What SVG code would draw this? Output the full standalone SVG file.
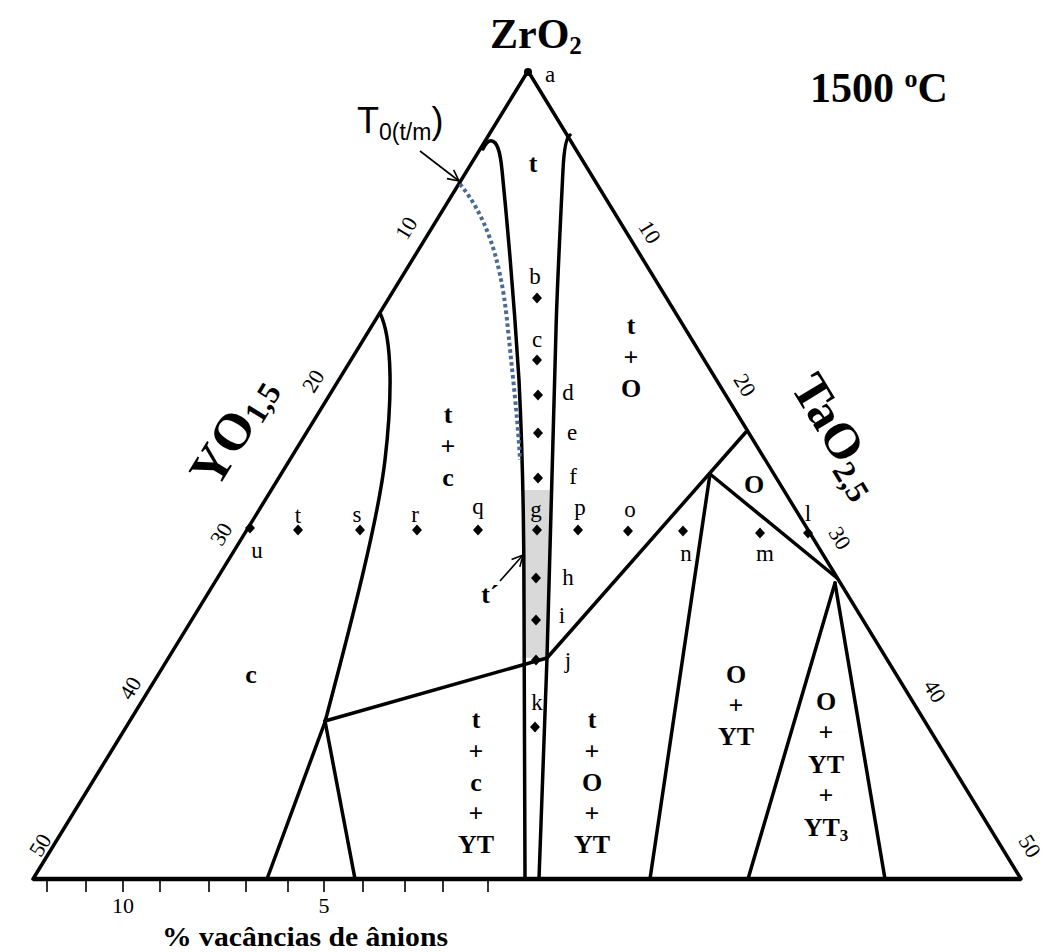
<svg xmlns="http://www.w3.org/2000/svg" width="1049" height="952" viewBox="0 0 1049 952">
<style>
.ln{fill:none;stroke:#000;stroke-width:3.5;stroke-linejoin:round;stroke-linecap:round}
.tk{stroke:#000;stroke-width:1.6}
.lbl{font-family:"Liberation Serif",serif;font-size:23px;text-anchor:middle;fill:#000}
.reg{font-family:"Liberation Serif",serif;font-size:26px;font-weight:bold;text-anchor:middle;fill:#000}
.ax{font-family:"Liberation Serif",serif;font-size:22px;text-anchor:middle;fill:#000}
.big{font-family:"Liberation Serif",serif;font-weight:bold;fill:#000}
.arw{fill:none;stroke:#000;stroke-width:1.6}
</style>
<defs>
<path id="dot" d="M0,-5.5L5,0L0,5.5L-5,0Z" fill="#000"/>
<marker id="arr" markerWidth="14" markerHeight="14" refX="12" refY="7" orient="auto" markerUnits="userSpaceOnUse"><path d="M1,1.5L12,7L1,12.5" fill="none" stroke="#000" stroke-width="1.6"/></marker>
</defs>
<rect width="1049" height="952" fill="#fff"/>

<g id="shading">
<polygon points="523,490 551,490 547,658 525,658" fill="#d9d9d9"/>
</g>

<g id="connectors">
<path id="triangle" class="ln" d="M528,71 L33,879 L1021,879 Z"/>
<path id="bottom-axis" d="M33,879 L1021,879" stroke="#000" stroke-width="4.5"/>
<path id="band-left" class="ln" d="M483,149 C486,143 489,140 492,141 C497,142 500,150 502,170 C507,220 514,300 519,380 C522,440 524,520 524,600 L525,879"/>
<path id="band-right" class="ln" d="M570,135 C566,137 564,150 563,170 C560,230 557,290 556,330 L547,658 L539,879"/>
<path id="c-boundary" class="ln" d="M380,313 C393,340 392,400 385,460 C378,520 352,620 325,722 L267,879"/>
<path id="tie-left" class="ln" d="M325,721 L547,658"/>
<path id="tie-left-down" class="ln" d="M325,721 L355,879"/>
<path id="j-line" class="ln" d="M547,658 L746,432"/>
<path id="o-left" class="ln" d="M710,474 L650,879"/>
<path id="o-right" class="ln" d="M710,474 L837,578"/>
<path id="yt3-left" class="ln" d="M835,583 L748,879"/>
<path id="yt3-right" class="ln" d="M835,583 L885,879"/>
<path id="t0-curve" d="M460,184 C485,215 500,255 507,320 C511,360 518,420 520,460" fill="none" stroke="#4a6a94" stroke-width="4" stroke-dasharray="3.5,3"/>
<path id="t0-arrow" class="arw" d="M420,151 L459,181" marker-end="url(#arr)"/>
<path id="tprime-arrow" class="arw" d="M500,581 L523,555" marker-end="url(#arr)"/>
<g id="ticks">
<path class="tk" d="M47,881V892M86,881V892M123,881V892M160,881V892M209,881V892M246,881V892M288,881V892M324,881V892M363,881V892M405,881V892M443,881V892M488,881V892"/>
</g>
</g>

<g id="titles">
<text id="zro2" class="big" x="490" y="48" font-size="42">ZrO<tspan font-size="25" dy="6">2</tspan></text>
<text id="temp" class="big" x="810" y="102" font-size="42">1500 <tspan font-size="26" dy="-15">o</tspan><tspan dy="15">C</tspan></text>
<text id="yo15" class="big" font-size="52" transform="translate(217,490) rotate(-58.5)">YO<tspan font-size="32" dy="4">1,5</tspan></text>
<text id="tao25" class="big" font-size="50" transform="translate(790,387) rotate(58.6)">TaO<tspan font-size="32" dy="8">2,5</tspan></text>
<text id="t0" font-family="'Liberation Sans',Arial,sans-serif" font-size="36" x="357" y="133">T<tspan font-size="23" dy="7">0(t/m</tspan><tspan dy="-7">)</tspan></text>
<text id="tprime" class="reg" x="490" y="603">t´</text>
<text id="xaxis" class="big" font-size="27" x="162" y="946" textLength="286" lengthAdjust="spacingAndGlyphs">% vacâncias  de ânions</text>
</g>

<g id="axis-labels">
<text class="ax" x="123" y="913">10</text>
<text class="ax" x="324" y="913">5</text>
<g transform="translate(406,228) rotate(-58.5)"><text class="ax" y="7.5">10</text></g>
<g transform="translate(313,381) rotate(-58.5)"><text class="ax" y="7.5">20</text></g>
<g transform="translate(221,534) rotate(-58.5)"><text class="ax" y="7.5">30</text></g>
<g transform="translate(130,688) rotate(-58.5)"><text class="ax" y="7.5">40</text></g>
<g transform="translate(40,845) rotate(-58.5)"><text class="ax" y="7.5">50</text></g>
<g transform="translate(650,232) rotate(58.6)"><text class="ax" y="7.5">10</text></g>
<g transform="translate(745,385) rotate(58.6)"><text class="ax" y="7.5">20</text></g>
<g transform="translate(840,538) rotate(58.6)"><text class="ax" y="7.5">30</text></g>
<g transform="translate(935,691) rotate(58.6)"><text class="ax" y="7.5">40</text></g>
<g transform="translate(1030,846) rotate(58.6)"><text class="ax" y="7.5">50</text></g>
</g>

<g id="regions">
<text class="reg" x="533" y="172">t</text>
<g id="reg-t-O"><text class="reg" x="631" y="334">t</text><text class="reg" x="631" y="366">+</text><text class="reg" x="631" y="397">O</text></g>
<g id="reg-t-c"><text class="reg" x="448" y="423">t</text><text class="reg" x="448" y="455">+</text><text class="reg" x="448" y="486">c</text></g>
<text id="reg-c" class="reg" font-size="36" x="251" y="683">c</text>
<text id="reg-O" class="reg" x="754" y="493">O</text>
<g id="reg-tcYT"><text class="reg" x="476" y="728">t</text><text class="reg" x="476" y="760">+</text><text class="reg" x="476" y="791">c</text><text class="reg" x="476" y="822">+</text><text class="reg" x="476" y="853">YT</text></g>
<g id="reg-tOYT"><text class="reg" x="592" y="728">t</text><text class="reg" x="592" y="760">+</text><text class="reg" x="592" y="791">O</text><text class="reg" x="592" y="822">+</text><text class="reg" x="592" y="853">YT</text></g>
<g id="reg-OYT"><text class="reg" x="736" y="683">O</text><text class="reg" x="736" y="714">+</text><text class="reg" x="736" y="745">YT</text></g>
<g id="reg-OYTYT3"><text class="reg" x="826" y="710">O</text><text class="reg" x="826" y="741">+</text><text class="reg" x="826" y="773">YT</text><text class="reg" x="826" y="804">+</text><text class="reg" x="826" y="836">YT<tspan font-size="17" dy="5">3</tspan></text></g>
</g>

<g id="points">
<circle cx="528" cy="72" r="4" fill="#000"/><text class="lbl" x="550" y="82">a</text>
<use href="#dot" x="537" y="298"/><text class="lbl" x="535" y="284">b</text>
<use href="#dot" x="537" y="360"/><text class="lbl" x="537" y="347">c</text>
<use href="#dot" x="538" y="395"/><text class="lbl" x="568" y="400">d</text>
<use href="#dot" x="538" y="433"/><text class="lbl" x="572" y="440">e</text>
<use href="#dot" x="538" y="478"/><text class="lbl" x="573" y="484">f</text>
<use href="#dot" x="537" y="530"/><text class="lbl" x="536" y="517">g</text>
<use href="#dot" x="578" y="530"/><text class="lbl" x="580" y="515">p</text>
<use href="#dot" x="628" y="531"/><text class="lbl" x="630" y="517">o</text>
<use href="#dot" x="683" y="531"/><text class="lbl" x="686" y="561">n</text>
<use href="#dot" x="760" y="533"/><text class="lbl" x="765" y="561">m</text>
<use href="#dot" x="808" y="533"/><text class="lbl" x="808" y="521">l</text>
<use href="#dot" x="478" y="530"/><text class="lbl" x="478" y="514">q</text>
<use href="#dot" x="417" y="530"/><text class="lbl" x="415" y="522">r</text>
<use href="#dot" x="360" y="530"/><text class="lbl" x="357" y="522">s</text>
<use href="#dot" x="298" y="530"/><text class="lbl" x="298" y="523">t</text>
<use href="#dot" x="250" y="528"/><text class="lbl" x="257" y="558">u</text>
<use href="#dot" x="536" y="578"/><text class="lbl" x="568" y="585">h</text>
<use href="#dot" x="536" y="620"/><text class="lbl" x="562" y="623">i</text>
<use href="#dot" x="536" y="660"/><text class="lbl" x="568" y="668">j</text>
<use href="#dot" x="535" y="727"/><text class="lbl" x="537" y="710">k</text>
</g>
</svg>
